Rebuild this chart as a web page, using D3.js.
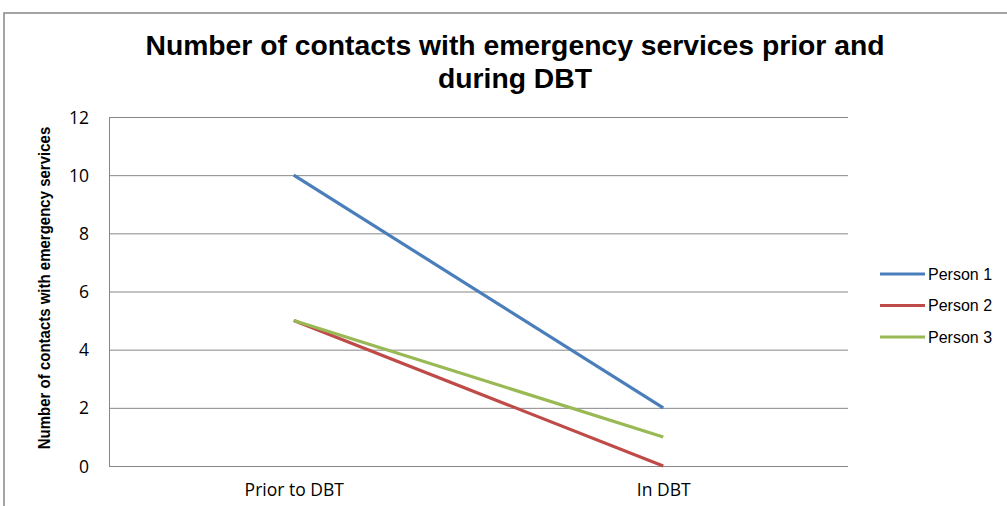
<!DOCTYPE html>
<html>
<head>
<meta charset="utf-8">
<script src="https://cdn.jsdelivr.net/npm/d3@7"></script>
<style>
  body { margin: 0; background: #fff; }
  svg { display: block; }
</style>
</head>
<body>
<div class="chart"></div>
<script>
// data
const categories = ['Prior to DBT', 'In DBT']
const seriesNames = ['Person 1', 'Person 2', 'Person 3']
const person1 = [10, 2]
const person2 = [5, 0]
const person3 = [5, 1]
const yTicks = [0, 2, 4, 6, 8, 10, 12]
const colors = ['#4a7ebb', '#be4b48', '#98b954']

const seriesData = [person1, person2, person3].map((vals, i) => ({
    name: seriesNames[i],
    color: colors[i],
    values: vals.map((v, j) => ({ cat: categories[j], value: v }))
}))

const svg_width = 1007
const svg_height = 506
const margin = { top: 117, left: 109, right: 159, bottom: 40 }
const chart_width = 848 - margin.left
const chart_height = 466 - margin.top

const svg = d3.select('.chart').append('svg')
    .attr('width', svg_width).attr('height', svg_height)

// outer frame
svg.append('rect')
    .attr('x', 4).attr('y', 13)
    .attr('width', 1010).attr('height', 520)
    .attr('fill', 'none').attr('stroke', '#868686').attr('stroke-width', 1.5)

const g = svg.append('g').attr('transform', `translate(${margin.left},${margin.top})`)

// scales
const xScale = d3.scalePoint().domain(categories).range([0, chart_width]).padding(0.5)
const yScale = d3.scaleLinear().domain([0, 12]).range([chart_height, 0])

const tickFont = '"Open Sans", Lato, sans-serif'

// gridlines
const yAxis = d3.axisLeft(yScale).tickValues(yTicks).tickSizeInner(-chart_width).tickSizeOuter(0).tickPadding(20)
const yAxisDraw = g.append('g').attr('class', 'y axis').call(yAxis)
yAxisDraw.select('.domain').attr('stroke', '#868686')
yAxisDraw.selectAll('.tick line').attr('stroke', '#868686')
yAxisDraw.selectAll('.tick text')
    .style('font-family', tickFont)
    .style('font-size', '17.5px').style('fill', '#000')
    .attr('dy', '0.35em')

const xAxis = d3.axisBottom(xScale).tickSize(0).tickPadding(18)
const xAxisDraw = g.append('g').attr('class', 'x axis')
    .attr('transform', `translate(0,${chart_height})`)
    .call(xAxis)
xAxisDraw.select('.domain').remove()
xAxisDraw.selectAll('.tick text')
    .style('font-family', tickFont)
    .style('font-size', '17.5px').style('fill', '#000')

// lines
const line = d3.line().x(d => xScale(d.cat)).y(d => yScale(d.value))
g.selectAll('.series').data(seriesData).enter()
    .append('path')
    .attr('class', 'series')
    .attr('d', d => line(d.values))
    .attr('fill', 'none')
    .attr('stroke', d => d.color)
    .attr('stroke-width', 3.2)

// title
const title = svg.append('text')
    .attr('text-anchor', 'middle')
    .style('font-family', '"Liberation Sans", Arial, sans-serif')
    .style('font-weight', 'bold').style('font-size', '28.3px')
title.append('tspan').attr('x', 515).attr('y', 55).text('Number of contacts with emergency services prior and')
title.append('tspan').attr('x', 515).attr('y', 88).text('during DBT')

// y label
svg.append('text')
    .attr('transform', `translate(50,288) rotate(-90) scale(1,1.15)`)
    .attr('text-anchor', 'middle')
    .style('font-family', '"Liberation Sans", Arial, sans-serif')
    .style('font-weight', 'bold').style('font-size', '15px')
    .text('Number of contacts with emergency services')

// legend
const legend = svg.append('g').attr('transform', 'translate(880,274)')
const items = legend.selectAll('.legend-item').data(seriesData).enter()
    .append('g').attr('class', 'legend-item')
    .attr('transform', (d, i) => `translate(0,${i * 31.5})`)
items.append('line')
    .attr('x1', 0).attr('x2', 45)
    .attr('stroke', d => d.color).attr('stroke-width', 3.2)
items.append('text')
    .attr('x', 48).attr('dy', '0.35em')
    .style('font-family', '"Liberation Sans", Arial, sans-serif')
    .style('font-size', '16px')
    .text(d => d.name)
</script>
</body>
</html>
